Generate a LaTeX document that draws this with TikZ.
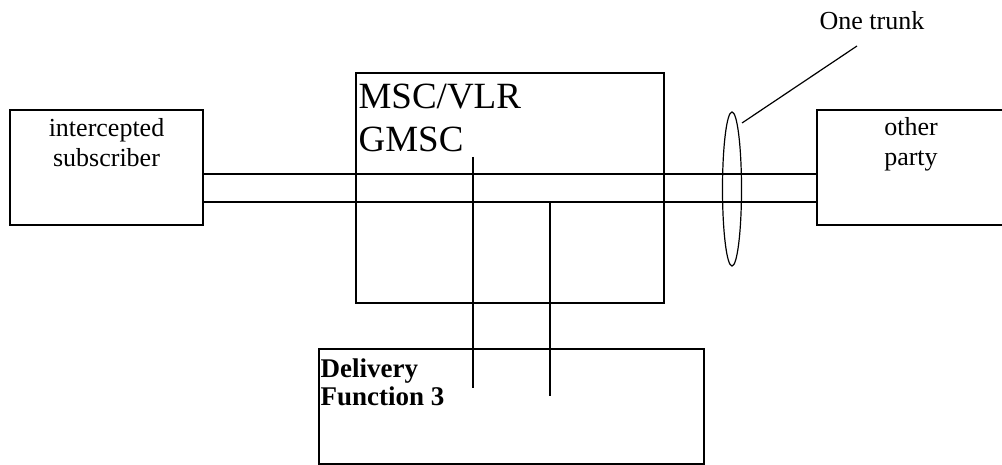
\documentclass[tikz,border=0pt]{standalone}
\usepackage{fontspec}
\setmainfont{Liberation Serif}
\usetikzlibrary{shapes.geometric}

\tikzset{
  unit/.style={draw, rectangle, line width=1.2pt, inner sep=0pt},
  txt/.style={inner sep=0pt, font=\fontsize{26}{30}\selectfont},
}

\begin{document}
\begin{tikzpicture}[x=1pt,y=-1pt,line width=1.2pt]%LI trunk
\useasboundingbox (0,0) rectangle (1002,465);
% boxes
\node[unit, minimum width=193pt, minimum height=115pt] (sub) at (106.5,167.5) {};
\node[unit, minimum width=308pt, minimum height=230pt] (msc) at (510,188) {};
\node[unit, minimum width=385pt, minimum height=115pt] (df) at (511.5,406.5) {};
\node[unit, minimum width=188pt, minimum height=115pt] (other) at (911,167.5) {};
% labels
\node[txt, align=center, anchor=north] (subtxt) at (106.5,118) {intercepted\\subscriber};
\node[txt, align=left, anchor=north west, font=\fontsize{37}{43}\selectfont] (msctxt) at (358,83) {MSC/VLR\\GMSC};
\node[txt, align=left, anchor=north west, font=\fontsize{27}{28}\selectfont\bfseries] (dftxt) at (320,358.5) {Delivery\\Function 3};
\node[txt, align=center, anchor=north] (othertxt) at (911,117) {other\\party};
\node[txt, anchor=base] (note) at (872,30) {One trunk};
% trunk lines
\draw ([yshift=-6.5pt]sub.east) -- ([yshift=-6.5pt]other.west);
\draw ([yshift=-34.5pt]sub.east) -- ([yshift=-34.5pt]other.west);
% taps towards delivery function
\coordinate (tapA) at (473,157);
\coordinate (tapAend) at (473,388);
\coordinate (tapB) at (550,202);
\coordinate (tapBend) at (550,396);
\draw (tapA) -- (tapAend);
\draw (tapB) -- (tapBend);
% trunk marker
\node[draw, ellipse, line width=1.2pt, minimum width=19pt, minimum height=154pt, inner sep=0pt] (trunk) at (732,189) {};
\coordinate (tip) at (742,123);
\coordinate (tail) at (857,46);
\draw (tip) -- (tail);
\end{tikzpicture}
\end{document}
